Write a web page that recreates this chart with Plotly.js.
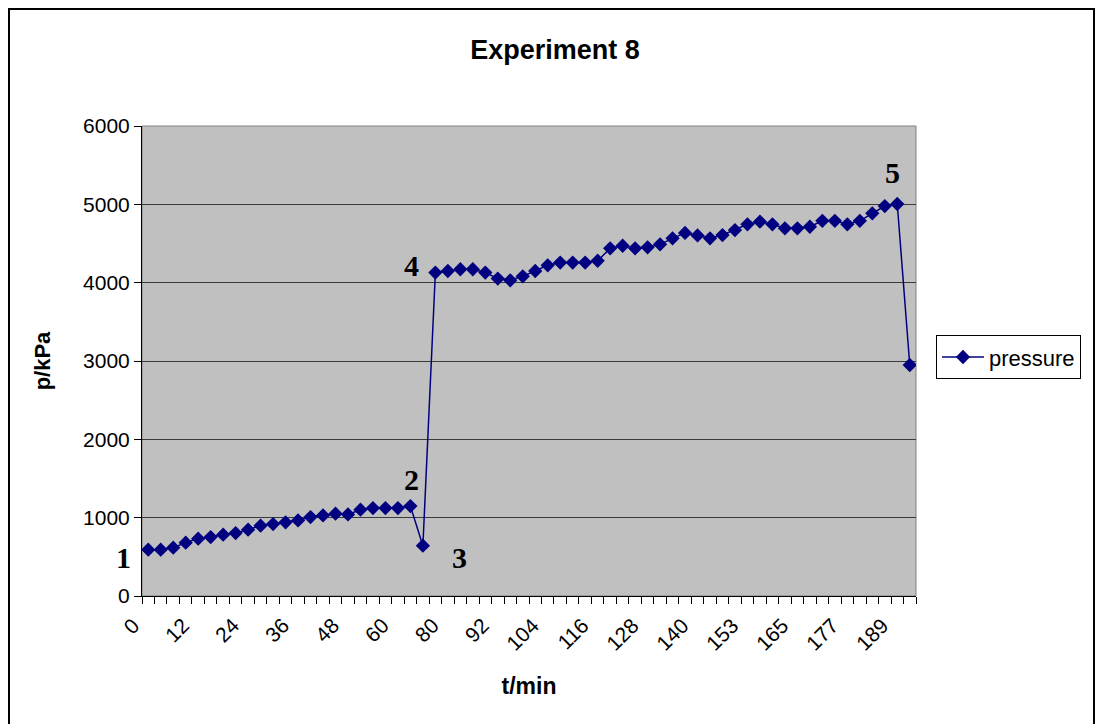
<!DOCTYPE html>
<html>
<head>
<meta charset="utf-8">
<script src="https://cdn.plot.ly/plotly-3.0.1.min.js"></script>
<style>
  html, body { margin: 0; padding: 0; background: #ffffff; overflow: hidden; }
  #wrap { position: relative; width: 1096px; height: 724px; }
  #chart { position: absolute; left: 0; top: 0; width: 1096px; height: 724px; }
  #frame { position: absolute; left: 8px; top: 8px; width: 1087px; height: 730px;
           border: 2px solid #000; pointer-events: none; box-sizing: border-box; }
</style>
</head>
<body>
<div id="wrap"><div id="chart"></div><div id="frame"></div></div>
<script>
// Category labels (time in minutes) for each measurement
const times = [0,3,6,9,12,15,18,21,24,27,30,33,36,39,42,45,48,51,54,57,60,
  65,70,75,
  80,83,86,89,92,95,98,101,104,107,110,113,116,119,122,125,128,131,134,137,140,
  143,146,150,
  153,156,159,162,165,168,171,174,177,180,183,186,189,
  192];

// Pressure in kPa
const pressure = [591,591,617,681,732,752,783,803,847,898,918,940,965,1008,1029,1051,1042,1102,1122,1122,1122,1148,
  642,
  4129,4149,4171,4171,4129,4052,4030,4081,4149,4222,4256,4256,4256,4280,
  4438,4471,4438,4451,4489,4566,
  4635,4603,4566,4608,4672,4745,4778,4745,4694,4694,4714,4790,4790,4745,4790,4885,4978,5004,
  2949];

// Labels written next to points on the chart
const markText = ['1', '2', '3', '4', '5'];

const labelEvery = 4;
const xIdx = times.map((t, i) => i);
const tickIdx = xIdx.filter(i => i % labelEvery === 0);
const tickText = tickIdx.map(i => String(times[i]));

// plot area in pixels (for paper conversions)
const L = 142, R = 916, T = 126, B = 595.6;
const W = 1096, H = 724;
const px2x = p => (p - L) / (R - L);
const px2y = p => (B - p) / (B - T);

const annPos = [[123.5, 557], [411, 479], [459.5, 557], [411, 265], [892, 172]];
const annotations = markText.map((t, k) => ({
  text: '<b>' + t + '</b>', xref: 'paper', yref: 'paper',
  x: px2x(annPos[k][0]), y: px2y(annPos[k][1]),
  xanchor: 'center', yanchor: 'middle', showarrow: false,
  font: { family: 'Liberation Serif, Times New Roman, serif', size: 30, color: '#000' }
}));

const trace = {
  x: xIdx, y: pressure, type: 'scatter', mode: 'lines+markers', name: 'pressure',
  line: { color: '#000080', width: 1.5 },
  marker: { symbol: 'diamond', size: 11, color: '#000080', line: { width: 0 } },
  customdata: times,
  hovertemplate: 't=%{customdata} min<br>p=%{y} kPa<extra></extra>'
};

const font = 'Liberation Sans, Arial, sans-serif';
const layout = {
  width: W, height: H,
  margin: { l: L, r: W - R, t: T, b: H - B, pad: 0 },
  paper_bgcolor: '#ffffff', plot_bgcolor: '#c0c0c0',
  font: { family: font, size: 21, color: '#000' },
  title: { text: '<b>Experiment 8</b>', xref: 'container', yref: 'container',
           x: 555 / W, y: 1 - 50 / H, xanchor: 'center', yanchor: 'middle',
           font: { family: font, size: 27, color: '#000' } },
  xaxis: {
    range: [-0.5, times.length - 0.5], tickmode: 'array', tickvals: tickIdx, ticktext: tickText,
    tickangle: -45, ticks: '', showgrid: false, zeroline: false,
    ticklabelshift: -15, ticklabelstandoff: 8,
    showline: true, linecolor: '#000', linewidth: 1,
    tickfont: { family: font, size: 21, color: '#000' },
    minor: { tick0: -0.5, dtick: 1, ticks: 'outside', ticklen: 7, tickcolor: '#000', tickwidth: 1, showgrid: false },
    title: { text: '<b>t/min</b>', font: { family: font, size: 23, color: '#000' }, standoff: 24 }
  },
  yaxis: {
    range: [0, 6000], tickmode: 'linear', tick0: 0, dtick: 1000,
    ticks: 'outside', ticklen: 7, tickcolor: '#000', tickwidth: 1,
    showgrid: true, gridcolor: '#3a3a3a', gridwidth: 1, zeroline: false,
    showline: true, linecolor: '#000', linewidth: 1,
    tickfont: { family: font, size: 21, color: '#000' },
    title: { text: '<b>p/kPa</b>', font: { family: font, size: 22, color: '#000' }, standoff: 26 }
  },
  showlegend: true,
  legend: {
    x: px2x(936), y: px2y(357), xanchor: 'left', yanchor: 'middle',
    bgcolor: '#ffffff', bordercolor: '#000', borderwidth: 1, itemwidth: 42,
    font: { family: font, size: 22, color: '#000' }
  },
  shapes: [{ type: 'rect', xref: 'paper', yref: 'paper', x0: 0, x1: 1, y0: 0, y1: 1,
             line: { color: '#808080', width: 1 }, fillcolor: 'rgba(0,0,0,0)', layer: 'below' }],
  annotations: annotations
};

Plotly.newPlot('chart', [trace], layout, { displayModeBar: false, staticPlot: true });
</script>
</body>
</html>
